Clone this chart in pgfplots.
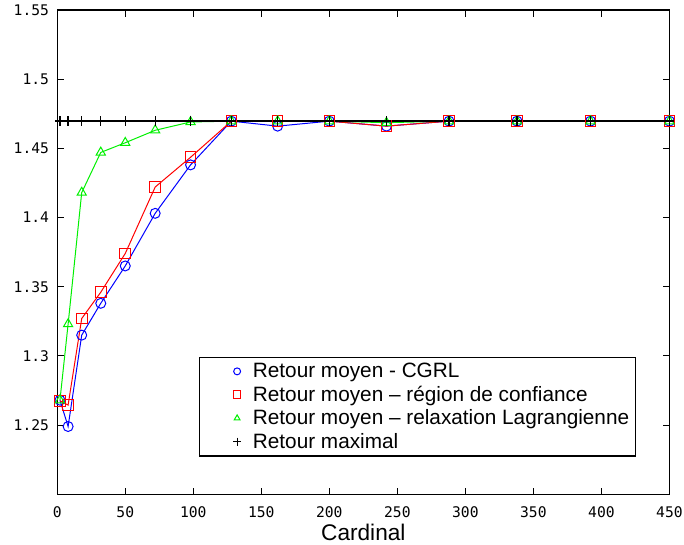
\documentclass[border=0pt]{standalone}
\usepackage{fontspec}
\setmainfont{Liberation Sans}
\setmonofont{DejaVu Sans Mono}
\usepackage{pgfplots}
\pgfplotsset{compat=1.18}
\definecolor{cblue}{RGB}{0,0,255}
\definecolor{cred}{RGB}{255,0,0}
\definecolor{cgreen}{RGB}{0,240,0}
\begin{document}
\begin{tikzpicture}
\begin{axis}[
    scale only axis,
    width=460pt, height=364pt,
    xmin=0, xmax=450,
    ymin=1.2, ymax=1.55,
    xtick={0,50,...,450},
    ytick={1.25,1.3,1.35,1.4,1.45,1.5,1.55},
    yticklabels={1.25,1.3,1.35,1.4,1.45,1.5,1.55},
    tick align=inside,
    major tick length=5pt,
    tick style={black, line width=0.8pt},
    axis line style={line width=1pt},
    /pgf/number format/assume math mode=true,
    tick label style={font=\ttfamily\fontsize{11}{13}\selectfont, inner xsep=1pt},
    yticklabel style={xshift=-5pt},
    xticklabel style={yshift=-5.5pt},
    xlabel={Cardinal},
    xlabel style={font=\fontsize{17}{20}\selectfont, yshift=2pt},
    legend cell align=left,
    legend style={at={(0.2313,0.078)}, anchor=south west,
        font=\fontsize{15.6}{17}\selectfont, draw=black, line width=0.8pt,
        inner ysep=2pt,
        nodes={inner ysep=2.4pt}},
    legend image code/.code={
        \path (0pt,0pt) (34.5pt,0pt);
        \draw[#1, only marks] plot coordinates {(25pt,0pt)};
    },
]
\addplot[cblue, line width=0.75pt, mark=o, mark size=3.75pt,
    legend image post style={mark size=2.6pt}] coordinates {
    (2,1.268) (8,1.249) (18,1.315) (32,1.338) (50,1.365) (72,1.403) (98,1.438)
    (128,1.4696) (162,1.4660) (200,1.4696) (242,1.4660) (288,1.4696)
    (338,1.4696) (392,1.4696) (450,1.4696)
};
\addlegendentry{Retour moyen - CGRL}
\addplot[cred, line width=0.75pt, mark=square, mark size=4pt,
    legend image post style={mark size=2.9pt}] coordinates {
    (2,1.2675) (8,1.2645) (18,1.327) (32,1.346) (50,1.374) (72,1.422) (98,1.4435)
    (128,1.4696) (162,1.4696) (200,1.4696) (242,1.4660) (288,1.4696)
    (338,1.4696) (392,1.4696) (450,1.4696)
};
\addlegendentry{Retour moyen -- région de confiance}
\addplot[cgreen, line width=0.75pt, mark=triangle, mark size=4pt,
    legend image post style={mark size=2.5pt}] coordinates {
    (2,1.268) (8,1.323) (18,1.418) (32,1.447) (50,1.454) (72,1.463) (98,1.469)
    (128,1.4696) (162,1.4696) (200,1.4696) (242,1.4685) (288,1.4696)
    (338,1.4696) (392,1.4696) (450,1.4696)
};
\addlegendentry{Retour moyen -- relaxation Lagrangienne}
\addplot[black, line width=1pt, mark=+, mark size=3.75pt,
    legend image post style={mark size=3pt, line width=0.75pt}] coordinates {
    (2,1.4696) (8,1.4696) (18,1.4696) (32,1.4696) (50,1.4696) (72,1.4696)
    (98,1.4696) (128,1.4696) (162,1.4696) (200,1.4696) (242,1.4696)
    (288,1.4696) (338,1.4696) (392,1.4696) (450,1.4696)
};
\addlegendentry{Retour maximal}
\end{axis}
\path (current axis.south west) ++(-43pt,0pt);
\end{tikzpicture}
\end{document}
